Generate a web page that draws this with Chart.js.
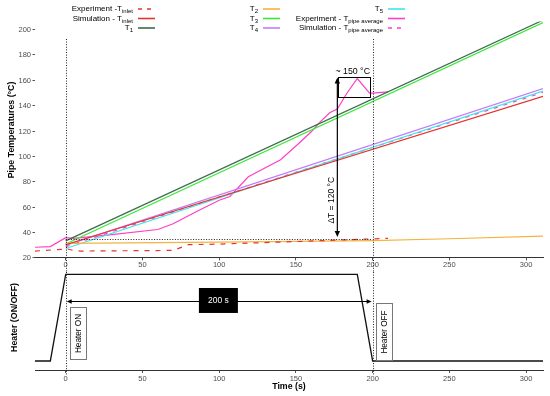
<!DOCTYPE html>
<html><head><meta charset="utf-8">
<script src="https://cdn.jsdelivr.net/npm/chart.js@4.4.1/dist/chart.umd.min.js"></script>
<style>
html,body{margin:0;padding:0;background:#fff;}
#wrap{position:relative;width:550px;height:396px;overflow:hidden;}
#c1{position:absolute;left:0;top:0;}
#c2{position:absolute;left:0;top:272px;}
</style></head><body>
<div id="wrap"><canvas id="c1" width="550" height="272"></canvas><canvas id="c2" width="550" height="124"></canvas></div>
<script>
// ---------- data ----------
const xTicks = [0, 50, 100, 150, 200, 250, 300];
const yTicks = [20, 40, 60, 80, 100, 120, 140, 160, 180, 200];

const simTime   = [0, 311];
const t1Vals    = [33, 207];
const t3Vals    = [30.5, 205];
const t4Vals    = [29.5, 153];
const t5Vals    = [27, 151];
const simPipeVals  = [28.5, 150];
const simInletVals = [30, 147];

const t2Time = [0, 100, 200, 250, 311];
const t2Vals = [31, 32, 33.2, 34.7, 36.8];

const expInletTime = [-20, -1, 0, 5, 10, 70, 80, 100, 150, 200, 210];
const expInletVals = [25, 26.5, 27, 25.5, 25, 25.5, 30, 30.5, 32.5, 34.6, 35];

const expPipeTime = [-20, -10, 0, 5, 30, 60, 70, 85, 100, 107, 119, 140, 152, 160, 166, 172, 177, 183, 190, 198, 200, 210];
const expPipeVals = [28, 28.5, 35.5, 35, 38, 42, 46.5, 56, 65, 68, 83.5, 97, 110, 119, 127, 134, 137, 149, 161, 149.5, 149.5, 150.5];

const heaterTime = [-20, -10, 0, 190, 200, 311];
const heaterVals = [0, 0, 1, 1, 0, 0];

const markerTimes = [0, 200];
const baseTemp = 34.6;          // horizontal dotted reference
const deltaArrow = {x: 177, from: 36, to: 161.8};
const peakBox = {x0: 177.6, x1: 198.3, y0: 146.6, y1: 162};

// ---------- helpers ----------
const FAM = '"Liberation Sans", Arial, sans-serif';
const TICKFONT = 7.5;
const TITLEFONT = 'bold 8.8px ' + FAM;
const pts = (xs, ys) => xs.map((v, i) => ({x: v, y: ys[i]}));

function arrowHead(ctx, x, y, ang, size) {
  ctx.save(); ctx.translate(x, y); ctx.rotate(ang);
  ctx.beginPath(); ctx.moveTo(0, 0); ctx.lineTo(-size, -size * 0.45); ctx.lineTo(-size, size * 0.45);
  ctx.closePath(); ctx.fill(); ctx.restore();
}
const LMAIN = '8px ' + FAM, LSUB = '6px ' + FAM;
function subLabel(ctx, rightX, y, label) {
  const parts = label.split('_');
  const main = parts[0], sub = parts[1] || '';
  ctx.font = LMAIN;
  const wm = ctx.measureText(main).width;
  ctx.font = LSUB;
  const ws = sub ? ctx.measureText(sub).width : 0;
  const start = rightX - wm - ws;
  ctx.textAlign = 'left'; ctx.textBaseline = 'middle'; ctx.fillStyle = '#000';
  ctx.font = LMAIN; ctx.fillText(main, start, y);
  if (sub) { ctx.font = LSUB; ctx.fillText(sub, start + wm, y + 2.5); }
}

const RED = '#e4352c', T1C = '#3d6b4c', T2C = '#f6b23e', T3C = '#3ae83a', T4C = '#c17dfb', T5C = '#3ee6e6', PINK = '#ff3fc4';

const datasets = [
  {label: 'Experiment -T_inlet', data: pts(expInletTime, expInletVals), borderColor: RED, borderDash: [5, 6], legend: [0, 0]},
  {label: 'Simulation - T_inlet', data: pts(simTime, simInletVals), borderColor: RED, legend: [0, 1]},
  {label: 'T_1', data: pts(simTime, t1Vals), borderColor: T1C, legend: [0, 2]},
  {label: 'T_2', data: pts(t2Time, t2Vals), borderColor: T2C, legend: [1, 0]},
  {label: 'T_3', data: pts(simTime, t3Vals), borderColor: T3C, legend: [1, 1]},
  {label: 'T_4', data: pts(simTime, t4Vals), borderColor: T4C, legend: [1, 2]},
  {label: 'T_5', data: pts(simTime, t5Vals), borderColor: T5C, legend: [2, 0]},
  {label: 'Experiment - T_pipe average', data: pts(expPipeTime, expPipeVals), borderColor: PINK, legend: [2, 1]},
  {label: 'Simulation - T_pipe average', data: pts(simTime, simPipeVals), borderColor: PINK, borderDash: [4, 6], legend: [2, 2]},
];

const legendCols = [133, 258, 383];
const legendRows = [9, 18.5, 28];

const annotTop = {
  id: 'annotTop',
  afterDatasetsDraw(chart) {
    const {ctx, scales: {x, y}} = chart;
    ctx.save();
    ctx.strokeStyle = '#222'; ctx.lineWidth = 1; ctx.setLineDash([1, 1.6]);
    markerTimes.forEach(v => {
      const px = Math.round(x.getPixelForValue(v)) + 0.5;
      ctx.beginPath(); ctx.moveTo(px, 39); ctx.lineTo(px, chart.height); ctx.stroke();
    });
    const hy = Math.round(y.getPixelForValue(baseTemp)) + 0.5;
    ctx.beginPath(); ctx.moveTo(x.getPixelForValue(0), hy); ctx.lineTo(x.getPixelForValue(200), hy); ctx.stroke();
    ctx.setLineDash([]);
    // delta arrow
    ctx.strokeStyle = '#000'; ctx.fillStyle = '#000'; ctx.lineWidth = 1.2;
    const ax = x.getPixelForValue(deltaArrow.x);
    const ay0 = y.getPixelForValue(deltaArrow.from), ay1 = y.getPixelForValue(deltaArrow.to);
    ctx.beginPath(); ctx.moveTo(ax, ay0 - 4); ctx.lineTo(ax, ay1 + 4); ctx.stroke();
    arrowHead(ctx, ax, ay0, Math.PI / 2, 6);
    arrowHead(ctx, ax, ay1, -Math.PI / 2, 6);
    // delta text
    ctx.save(); ctx.translate(ax - 6, y.getPixelForValue(65)); ctx.rotate(-Math.PI / 2);
    ctx.font = '8.5px ' + FAM; ctx.textAlign = 'center'; ctx.textBaseline = 'middle';
    ctx.fillText('ΔT = 120 °C', 0, 0); ctx.restore();
    // peak box
    ctx.lineWidth = 1;
    const bx0 = x.getPixelForValue(peakBox.x0), bx1 = x.getPixelForValue(peakBox.x1);
    const by0 = y.getPixelForValue(peakBox.y1), by1 = y.getPixelForValue(peakBox.y0);
    ctx.strokeRect(Math.round(bx0) + 0.5, Math.round(by0) + 0.5, Math.round(bx1 - bx0), Math.round(by1 - by0));
    ctx.font = '8.8px ' + FAM; ctx.textAlign = 'center'; ctx.textBaseline = 'middle';
    ctx.fillText('~ 150 °C', x.getPixelForValue(187), y.getPixelForValue(166.8));
    ctx.restore();
  },
  afterDraw(chart) {
    const {ctx, scales: {y}} = chart;
    ctx.save();
    // y tick marks and labels
    ctx.strokeStyle = '#555'; ctx.lineWidth = 1;
    ctx.fillStyle = '#4d4d4d'; ctx.font = TICKFONT + 'px ' + FAM; ctx.textAlign = 'right'; ctx.textBaseline = 'middle';
    yTicks.forEach(v => {
      const py = Math.round(y.getPixelForValue(v)) + 0.5;
      ctx.beginPath(); ctx.moveTo(32.5, py); ctx.lineTo(35, py); ctx.stroke();
      ctx.fillText(String(v), 31, py);
    });
    // y title
    ctx.save(); ctx.translate(12, 130); ctx.rotate(-Math.PI / 2);
    ctx.font = TITLEFONT; ctx.fillStyle = '#000'; ctx.textAlign = 'center'; ctx.textBaseline = 'middle';
    ctx.fillText('Pipe Temperatures (°C)', 0, 0); ctx.restore();
    // legend
    chart.data.datasets.forEach(ds => {
      const [c, r] = ds.legend;
      const rx = legendCols[c], ry = legendRows[r];
      subLabel(ctx, rx, ry, ds.label);
      ctx.strokeStyle = ds.borderColor; ctx.lineWidth = 1.6;
      ctx.setLineDash(ds.borderDash ? [4, 5] : []);
      ctx.beginPath(); ctx.moveTo(rx + 5, ry); ctx.lineTo(rx + 22, ry); ctx.stroke();
      ctx.setLineDash([]);
    });
    ctx.restore();
  }
};

const chart1 = new Chart(document.getElementById('c1'), {
  type: 'line',
  data: {datasets},
  options: {
    responsive: false, animation: false, events: [],
    layout: {padding: {top: 21.4, right: 7, left: 0, bottom: 0}},
    plugins: {legend: {display: false}, tooltip: {enabled: false}},
    elements: {point: {radius: 0}, line: {borderWidth: 1.2, tension: 0, fill: false}},
    scales: {
      x: {type: 'linear', min: -20, max: 311,
        afterBuildTicks: s => { s.ticks = xTicks.map(v => ({value: v})); },
        afterFit: s => { s.height = 14.6; },
        grid: {display: true, drawOnChartArea: false, drawTicks: true, tickLength: 3, color: '#555'},
        border: {display: true, color: '#333', width: 1},
        ticks: {color: '#4d4d4d', font: {size: TICKFONT, family: FAM}, padding: 0.5, maxRotation: 0, autoSkip: false}},
      y: {type: 'linear', min: 20, max: 206,
        afterBuildTicks: s => { s.ticks = yTicks.map(v => ({value: v})); },
        afterFit: s => { s.width = 35; },
        grid: {display: false}, border: {display: false},
        ticks: {display: false}}
    }
  },
  plugins: [annotTop]
});

// ---------- heater panel ----------
const annotBottom = {
  id: 'annotBottom',
  afterDatasetsDraw(chart) {
    const {ctx, scales: {x, y}} = chart;
    ctx.save();
    ctx.strokeStyle = '#222'; ctx.lineWidth = 1; ctx.setLineDash([1, 1.6]);
    markerTimes.forEach(v => {
      const px = Math.round(x.getPixelForValue(v)) + 0.5;
      ctx.beginPath(); ctx.moveTo(px, 0); ctx.lineTo(px, 103); ctx.stroke();
    });
    ctx.setLineDash([]);
    // 200 s double arrow
    ctx.strokeStyle = '#000'; ctx.fillStyle = '#000'; ctx.lineWidth = 1.2;
    const ay = Math.round(y.getPixelForValue(0.695)) + 0.5;
    const ax0 = x.getPixelForValue(0), ax1 = x.getPixelForValue(200);
    ctx.beginPath(); ctx.moveTo(ax0 + 4, ay); ctx.lineTo(ax1 - 4, ay); ctx.stroke();
    arrowHead(ctx, ax0 + 1, ay, Math.PI, 5);
    arrowHead(ctx, ax1 - 1, ay, 0, 5);
    // black box
    const bx0 = x.getPixelForValue(86.8), bx1 = x.getPixelForValue(112.2);
    const by0 = y.getPixelForValue(0.842), by1 = y.getPixelForValue(0.554);
    ctx.fillRect(bx0, by0, bx1 - bx0, by1 - by0);
    ctx.fillStyle = '#fff'; ctx.font = '8.5px ' + FAM; ctx.textAlign = 'center'; ctx.textBaseline = 'middle';
    ctx.fillText('200 s', (bx0 + bx1) / 2, (by0 + by1) / 2);
    // heater on / off boxes
    [[2.8, 13.2, 0.623, 0.023, 'Heater ON'], [202, 212.7, 0.669, 0.0115, 'Heater OFF']].forEach(b => {
      const x0 = Math.round(x.getPixelForValue(b[0])) + 0.5, x1 = Math.round(x.getPixelForValue(b[1])) + 0.5;
      const y0 = Math.round(y.getPixelForValue(b[2])) + 0.5, y1 = Math.round(y.getPixelForValue(b[3])) + 0.5;
      ctx.fillStyle = '#fff'; ctx.fillRect(x0, y0, x1 - x0, y1 - y0);
      ctx.strokeStyle = '#777'; ctx.lineWidth = 1; ctx.strokeRect(x0, y0, x1 - x0, y1 - y0);
      ctx.save(); ctx.translate((x0 + x1) / 2, (y0 + y1) / 2); ctx.rotate(-Math.PI / 2);
      ctx.fillStyle = '#000'; ctx.font = '8.2px ' + FAM; ctx.textAlign = 'center'; ctx.textBaseline = 'middle';
      ctx.fillText(b[4], 0, 0.5); ctx.restore();
    });
    ctx.restore();
  },
  afterDraw(chart) {
    const {ctx} = chart;
    ctx.save();
    ctx.fillStyle = '#000'; ctx.font = TITLEFONT; ctx.textAlign = 'center'; ctx.textBaseline = 'middle';
    ctx.fillText('Time (s)', 289, 115);
    ctx.save(); ctx.translate(15, 45.5); ctx.rotate(-Math.PI / 2);
    ctx.fillText('Heater (ON/OFF)', 0, 0); ctx.restore();
    ctx.restore();
  }
};

const chart2 = new Chart(document.getElementById('c2'), {
  type: 'line',
  data: {datasets: [{label: 'Heater', data: pts(heaterTime, heaterVals), borderColor: '#111', borderWidth: 1.3}]},
  options: {
    responsive: false, animation: false, events: [],
    layout: {padding: {top: 0, right: 7, left: 0, bottom: 0}},
    plugins: {legend: {display: false}, tooltip: {enabled: false}},
    elements: {point: {radius: 0}, line: {tension: 0, fill: false}},
    scales: {
      x: {type: 'linear', min: -20, max: 311,
        afterBuildTicks: s => { s.ticks = xTicks.map(v => ({value: v})); },
        afterFit: s => { s.height = 26; },
        grid: {display: true, drawOnChartArea: false, drawTicks: true, tickLength: 3, color: '#555'},
        border: {display: true, color: '#333', width: 1},
        ticks: {color: '#4d4d4d', font: {size: TICKFONT, family: FAM}, padding: 1, maxRotation: 0, autoSkip: false}},
      y: {type: 'linear', min: -0.104, max: 1.0265,
        afterFit: s => { s.width = 35; },
        grid: {display: false}, border: {display: false},
        ticks: {display: false}}
    }
  },
  plugins: [annotBottom]
});
</script>
</body></html>
